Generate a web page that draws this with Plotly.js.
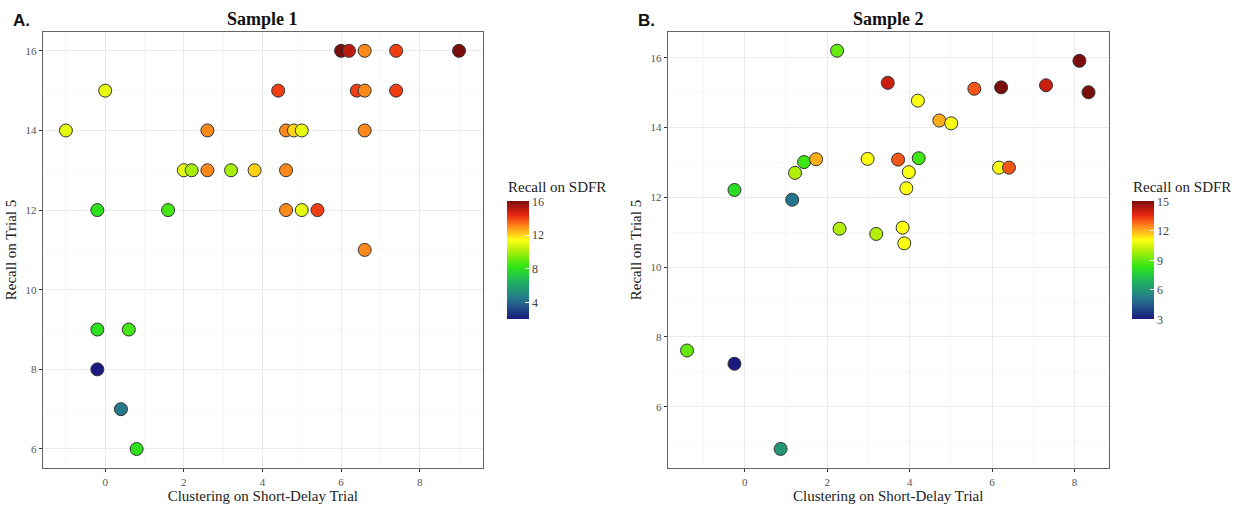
<!DOCTYPE html>
<html>
<head>
<meta charset="utf-8">
<script src="https://cdn.plot.ly/plotly-3.0.1.min.js"></script>
<style>html,body{margin:0;padding:0;background:#fff;}#chart{width:1235px;height:505px;}</style>
</head>
<body>
<div id="chart"></div>
<script>
// ---- Sample 1 (panel A) ----
var sample1Clustering = [6.0, 6.2, 6.6, 7.4, 9.0,
  0.0, 4.4, 6.4, 6.6, 7.4,
  -1.0, 2.6, 4.6, 4.8, 5.0, 6.6,
  2.0, 2.2, 2.6, 3.2, 3.8, 4.6,
  -0.2, 1.6, 4.6, 5.0, 5.4,
  6.6,
  -0.2, 0.6,
  -0.2,
  0.4,
  0.8];
var sample1Trial5 = [16, 16, 16, 16, 16,
  15, 15, 15, 15, 15,
  14, 14, 14, 14, 14, 14,
  13, 13, 13, 13, 13, 13,
  12, 12, 12, 12, 12,
  11,
  9, 9,
  8,
  7,
  6];
var sample1SDFR = [16, 15, 13, 14, 16,
  11, 14, 14, 13, 14,
  11, 13, 13, 12, 11, 13,
  11, 10, 13, 10, 12, 13,
  8, 8.5, 13, 11, 14,
  13,
  8, 8.5,
  2,
  4.5,
  8];

// ---- Sample 2 (panel B) ----
var sample2Clustering = [2.24, 3.47, 4.20, 4.72, 5.01, 5.57, 6.22, 7.31, 8.12, 8.34,
  -0.25, 1.15, 1.22, 1.44, 1.73, 2.98, 3.72, 4.22, 3.98, 3.92,
  6.17, 6.41, 2.30, 3.19, 3.83, 3.87, -1.40, -0.25, 0.87];
var sample2Trial5 = [16.20, 15.28, 14.77, 14.20, 14.12, 15.11, 15.15, 15.21, 15.91, 15.01,
  12.21, 11.93, 12.70, 13.01, 13.09, 13.10, 13.08, 13.12, 12.72, 12.26,
  12.85, 12.85, 11.10, 10.95, 11.13, 10.68, 7.61, 7.23, 4.79];
var sample2SDFR = [9, 14, 11, 12, 11, 13, 15, 14, 15, 15,
  8, 5, 10, 8.5, 12, 11, 13, 8.5, 11, 11,
  11, 13, 10, 10, 11, 11, 9, 3, 6];

// ---- tick labels ----
var xTicks = [0, 2, 4, 6, 8];
var yTicks = [6, 8, 10, 12, 14, 16];
var cbar1Ticks = [4, 8, 12, 16];
var cbar2Ticks = [3, 6, 9, 12, 15];
var panelTitles = ["Sample 1", "Sample 2"];
var panelLetters = ["A.", "B."];
var colorbarTitle = "Recall on SDFR";

var W = 1235, H = 505;
var serif = "Liberation Serif, Times New Roman, serif";
var scale = [
  [0, '#1a1a80'], [0.17, '#25768e'], [0.33, '#20b85a'], [0.44, '#2ee616'],
  [0.57, '#a6ee0a'], [0.67, '#ffff14'], [0.78, '#ff8f1c'], [0.88, '#e92510'], [1, '#7a0e0a']
];

function cbar(xpx, ticks) {
  return {
    x: xpx / W, xanchor: 'left', xpad: 0,
    y: 1 - 319.3 / H, yanchor: 'bottom', ypad: 0,
    len: 117.6, lenmode: 'pixels', thickness: 22, outlinewidth: 0,
    tickvals: ticks, ticks: 'inside', ticklen: 4, tickcolor: 'white',
    tickfont: {family: serif, size: 12, color: '#444'}
  };
}

var trace1 = {
  type: 'scatter', mode: 'markers', xaxis: 'x', yaxis: 'y',
  x: sample1Clustering, y: sample1Trial5,
  marker: {size: 13, color: sample1SDFR, colorscale: scale, cmin: 2, cmax: 16,
    line: {color: '#333', width: 1}, showscale: true, colorbar: cbar(506.7, cbar1Ticks)},
  hoverinfo: 'x+y'
};
var trace2 = {
  type: 'scatter', mode: 'markers', xaxis: 'x2', yaxis: 'y2',
  x: sample2Clustering, y: sample2Trial5,
  marker: {size: 13, color: sample2SDFR, colorscale: scale, cmin: 3, cmax: 15,
    line: {color: '#333', width: 1}, showscale: true, colorbar: cbar(1131.7, cbar2Ticks)},
  hoverinfo: 'x+y'
};

function xax(domPx, range, anchor) {
  return {
    domain: [domPx[0] / W, domPx[1] / W], range: range, anchor: anchor,
    tickvals: xTicks, ticks: 'outside', ticklen: 3, tickcolor: '#333',
    tickfont: {family: serif, size: 11, color: '#555'},
    showgrid: true, gridcolor: '#ebebeb', gridwidth: 1,
    minor: {dtick: 1, tick0: 0, showgrid: true, gridcolor: '#f3f3f3', gridwidth: 0.6},
    zeroline: false, showline: true, linecolor: '#666', linewidth: 1, mirror: true,
    title: {text: 'Clustering on Short-Delay Trial', standoff: 2, font: {family: serif, size: 15, color: '#222'}}
  };
}
function yax(range, anchor, ticks) {
  return {
    domain: [1 - 468.3 / H, 1 - 31.7 / H], range: range, anchor: anchor,
    tickvals: ticks, ticks: 'outside', ticklen: 3, tickcolor: '#333',
    tickfont: {family: serif, size: 11, color: '#555'},
    showgrid: true, gridcolor: '#ebebeb', gridwidth: 1,
    minor: {dtick: 1, tick0: 0, showgrid: true, gridcolor: '#f3f3f3', gridwidth: 0.6},
    zeroline: false, showline: true, linecolor: '#666', linewidth: 1, mirror: true,
    title: {text: 'Recall on Trial 5', standoff: 5, font: {family: serif, size: 15, color: '#222'}}
  };
}

function note(xpx, ypx, text, font, anchor) {
  return {xref: 'paper', yref: 'paper', x: xpx / W, y: 1 - ypx / H, xanchor: anchor, yanchor: 'middle',
    text: text, showarrow: false, font: font};
}

var titleFont = {family: serif, size: 18, color: '#111'};
var letterFont = {family: 'Liberation Sans, Arial, sans-serif', size: 17, color: '#111'};
var cbTitleFont = {family: serif, size: 15, color: '#222'};

var layout = {
  width: W, height: H,
  margin: {l: 0, r: 0, t: 0, b: 0, autoexpand: false},
  paper_bgcolor: '#fff', plot_bgcolor: '#fff',
  showlegend: false,
  xaxis: xax([42.7, 483], [-1.59, 9.61], 'y'),
  yaxis: yax([5.515, 16.48], 'x', yTicks),
  xaxis2: xax([667.7, 1108.7], [-1.87, 8.83], 'y2'),
  yaxis2: yax([4.235, 16.745], 'x2', yTicks),
  annotations: [
    note(262.8, 19, '<b>' + panelTitles[0] + '</b>', titleFont, 'center'),
    note(888.2, 19, '<b>' + panelTitles[1] + '</b>', titleFont, 'center'),
    note(11, 20, '<b>' + panelLetters[0] + '</b>', letterFont, 'left'),
    note(636, 20, '<b>' + panelLetters[1] + '</b>', letterFont, 'left'),
    note(505.5, 187, colorbarTitle, cbTitleFont, 'left'),
    note(1130.5, 187, colorbarTitle, cbTitleFont, 'left')
  ]
};

Plotly.newPlot('chart', [trace1, trace2], layout, {displayModeBar: false, staticPlot: true});
</script>
</body>
</html>
